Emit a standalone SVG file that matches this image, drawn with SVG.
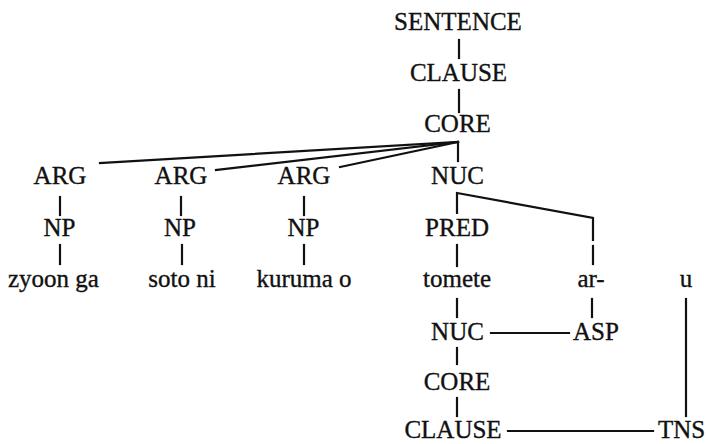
<svg xmlns="http://www.w3.org/2000/svg" width="708" height="444" viewBox="0 0 708 444">
<style>
text{font-family:'Liberation Serif','DejaVu Serif',serif;font-size:25px;fill:#111;text-anchor:middle;stroke:#111;stroke-width:0.35}
.c line,.c polyline{stroke:#111;stroke-width:2.2;fill:none;stroke-linecap:square}
</style>
<rect width="708" height="444" fill="#fff"/>
<g class="c" id="connectors">
<line x1="459" y1="40" x2="459" y2="58"/>
<line x1="459" y1="90" x2="459" y2="112"/>
<line x1="458" y1="142" x2="100" y2="163"/>
<line x1="458" y1="142" x2="216" y2="170"/>
<line x1="458" y1="142" x2="340" y2="167"/>
<line x1="458" y1="142" x2="458" y2="161"/>
<line x1="60" y1="197" x2="60" y2="215"/>
<line x1="181" y1="197" x2="181" y2="215"/>
<line x1="304" y1="197" x2="304" y2="215"/>
<polyline points="457,213 457,193 593,218 593,240"/>
<line x1="60" y1="245" x2="60" y2="264"/>
<line x1="182" y1="245" x2="182" y2="264"/>
<line x1="304" y1="245" x2="304" y2="264"/>
<line x1="457" y1="245" x2="457" y2="266"/>
<line x1="593" y1="246" x2="593" y2="264"/>
<line x1="457" y1="299" x2="457" y2="317"/>
<line x1="592" y1="299" x2="592" y2="317"/>
<line x1="491" y1="333" x2="569" y2="333"/>
<line x1="457" y1="348" x2="457" y2="364"/>
<line x1="457" y1="398" x2="457" y2="416"/>
<line x1="508" y1="431" x2="653" y2="431"/>
<line x1="686" y1="299" x2="686" y2="416"/>
</g>
<g id="sentence"><text x="458" y="30">SENTENCE</text></g>
<g id="clause1"><text x="458.5" y="81">CLAUSE</text></g>
<g id="core1"><text x="457.5" y="132">CORE</text></g>
<g id="arg1"><text x="60" y="184">ARG</text></g>
<g id="arg2"><text x="181" y="184">ARG</text></g>
<g id="arg3"><text x="304" y="184">ARG</text></g>
<g id="nuc1"><text x="457.5" y="184">NUC</text></g>
<g id="np1"><text x="59.5" y="236">NP</text></g>
<g id="np2"><text x="180" y="236">NP</text></g>
<g id="np3"><text x="303.5" y="236">NP</text></g>
<g id="pred"><text x="457" y="236">PRED</text></g>
<g id="zyoonga"><text x="53.5" y="287">zyoon ga</text></g>
<g id="sotoni"><text x="182" y="287">soto ni</text></g>
<g id="kurumao"><text x="304" y="287">kuruma o</text></g>
<g id="tomete"><text x="457" y="287">tomete</text></g>
<g id="ar"><text x="591" y="287">ar-</text></g>
<g id="u"><text x="686" y="287">u</text></g>
<g id="nuc2"><text x="457.5" y="340">NUC</text></g>
<g id="asp"><text x="596" y="340">ASP</text></g>
<g id="core2"><text x="457" y="390">CORE</text></g>
<g id="clause2"><text x="453" y="438">CLAUSE</text></g>
<g id="tns"><text x="681.5" y="438">TNS</text></g>
</svg>
